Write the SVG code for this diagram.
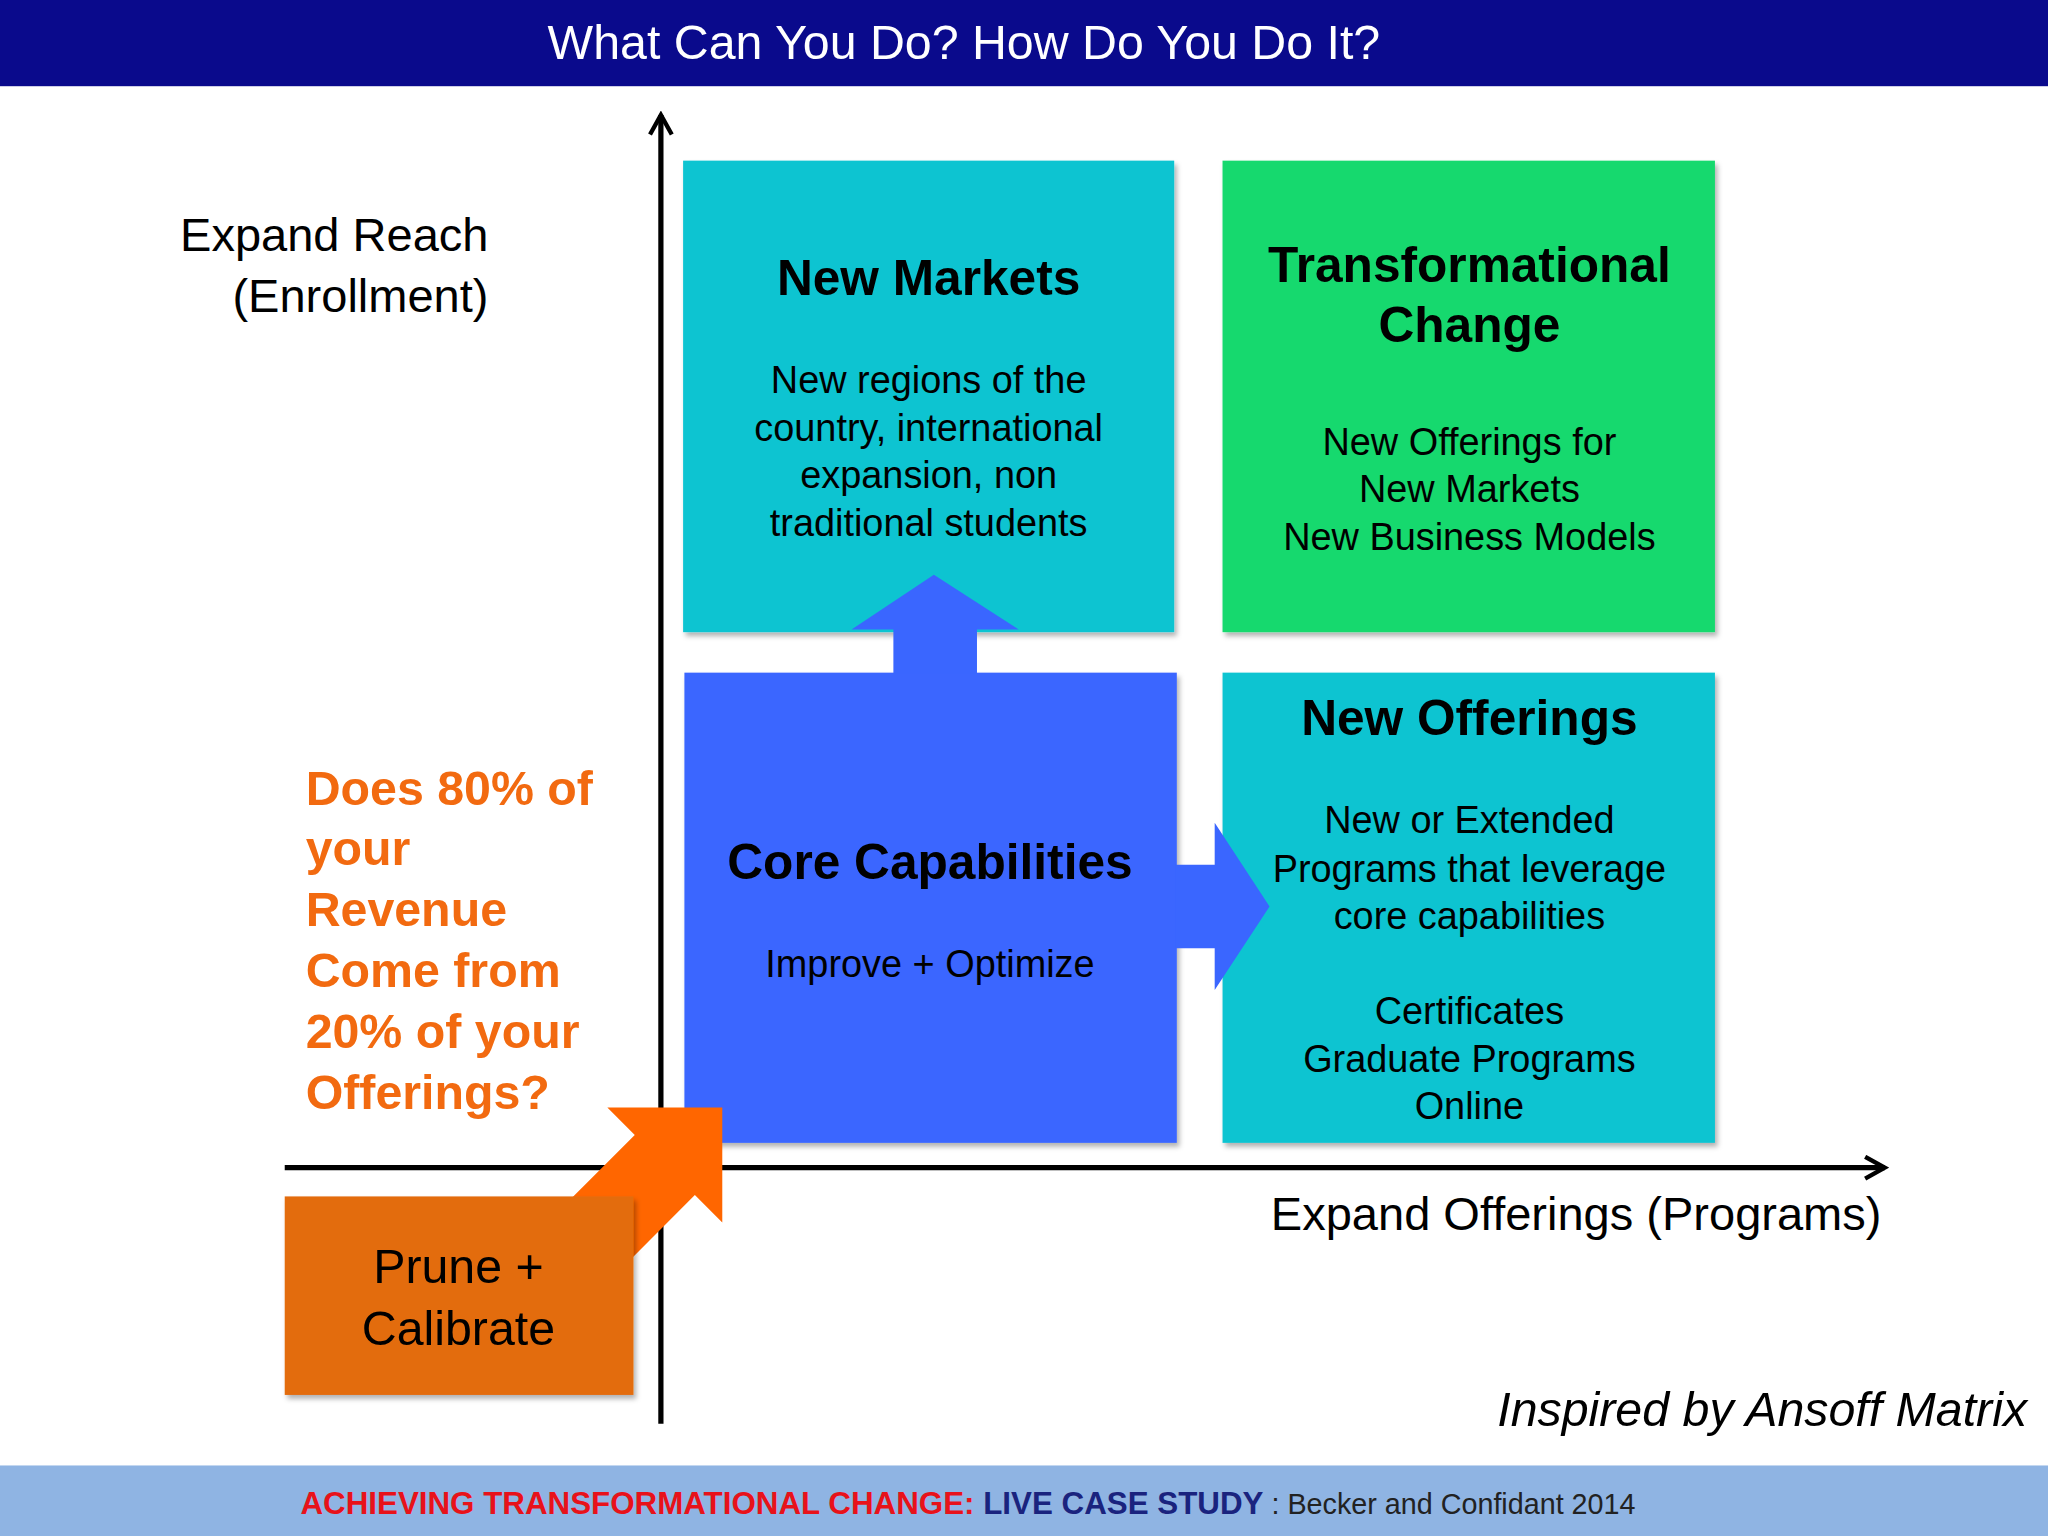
<svg xmlns="http://www.w3.org/2000/svg" width="2048" height="1536" viewBox="0 0 2048 1536">
<defs>
<style>
text{font-family:"Liberation Sans",Arial,sans-serif}
.box{filter:url(#sh)}
.h{font-weight:bold;font-size:38px;fill:#000;text-anchor:middle}
.b{font-size:29px;fill:#000;text-anchor:middle}
.ax{stroke:#000;stroke-width:4;fill:none}
</style>
<filter id="sh" x="-5%" y="-5%" width="115%" height="115%"><feDropShadow dx="2" dy="3" stdDeviation="2" flood-color="#000" flood-opacity="0.3"/></filter>
<marker id="ah" viewBox="0 0 12 12" refX="10" refY="6" markerWidth="5" markerHeight="5" orient="auto"><path d="M1,1 L10,6 L1,11" fill="none" stroke="#000" stroke-width="2"/></marker>
</defs>
<rect width="2048" height="1536" fill="#fff"/>
<g transform="scale(1.30612)">
<g id="header"><rect x="0" y="0" width="1568" height="66" fill="#0a0a8c"/>
<text x="738" y="45" font-size="37" fill="#fff" text-anchor="middle">What Can You Do? How Do You Do It?</text></g>
<g id="footer"><rect x="0" y="1122" width="1568" height="54" fill="#8fb4e3"/>
<text x="230" y="1159" font-size="24"><tspan fill="#e8121a" font-weight="bold">ACHIEVING TRANSFORMATIONAL CHANGE: </tspan><tspan fill="#1a237e" font-weight="bold">LIVE CASE STUDY</tspan><tspan fill="#222" font-size="22"> : Becker and Confidant 2014</tspan></text></g>
<g id="connectors">
<line class="ax" x1="506" y1="1090" x2="506" y2="88" marker-end="url(#ah)"/>
<line class="ax" x1="218" y1="894" x2="1443" y2="894" marker-end="url(#ah)"/>
</g>
<g id="new-markets"><rect class="box" x="523" y="123" width="376" height="361" fill="#11c4d1"/>
<text class="h" x="711" y="226">New Markets</text>
<text class="b" x="711" y="301">New regions of the</text><text class="b" x="711" y="338">country, international</text><text class="b" x="711" y="374">expansion, non</text><text class="b" x="711" y="410">traditional students</text></g>
<g id="transformational"><rect class="box" x="936" y="123" width="377" height="361" fill="#17d96e"/>
<text class="h" x="1125" y="216">Transformational</text><text class="h" x="1125" y="262">Change</text>
<text class="b" x="1125" y="348">New Offerings for</text><text class="b" x="1125" y="384">New Markets</text><text class="b" x="1125" y="421">New Business Models</text></g>
<g id="core"><rect class="box" x="524" y="515" width="377" height="360" fill="#3a66ff"/>
<text class="h" x="712" y="673">Core Capabilities</text>
<text class="b" x="712" y="748">Improve + Optimize</text></g>
<g id="new-offerings"><rect class="box" x="936" y="515" width="377" height="360" fill="#11c4d1"/>
<text class="h" x="1125" y="563">New Offerings</text>
<text class="b" x="1125" y="638">New or Extended</text><text class="b" x="1125" y="675">Programs that leverage</text><text class="b" x="1125" y="711">core capabilities</text>
<text class="b" x="1125" y="784">Certificates</text><text class="b" x="1125" y="821">Graduate Programs</text><text class="b" x="1125" y="857">Online</text></g>
<g id="arrows">
<polygon points="684,516 684,482 652,482 715,440 780,482 748,482 748,516" fill="#3a66ff"/>
<polygon points="900,662 930,662 930,630 972,694 930,758 930,726 900,726" fill="#3a66ff"/>
<polygon points="432,923 486,869 465,848 553,848 553,936 532,915 478,969" fill="#ff6600"/>
</g>
<g id="prune"><rect class="box" x="218" y="916" width="267" height="152" fill="#e36c0e"/>
<text x="351" y="982" font-size="37" text-anchor="middle">Prune +</text><text x="351" y="1030" font-size="37" text-anchor="middle">Calibrate</text></g>
<g id="labels">
<text x="374" y="192" font-size="36" text-anchor="end">Expand Reach</text>
<text x="374" y="239" font-size="36" text-anchor="end">(Enrollment)</text>
<text x="973" y="942" font-size="36">Expand Offerings (Programs)</text>
<text x="1552" y="1092" font-size="37" font-style="italic" text-anchor="end">Inspired by Ansoff Matrix</text>
<g font-size="37" font-weight="bold" fill="#f26a10">
<text x="234" y="616">Does 80% of</text><text x="234" y="662">your</text><text x="234" y="709">Revenue</text><text x="234" y="756">Come from</text><text x="234" y="802">20% of your</text><text x="234" y="849">Offerings?</text></g>
</g>
</g>
</svg>
